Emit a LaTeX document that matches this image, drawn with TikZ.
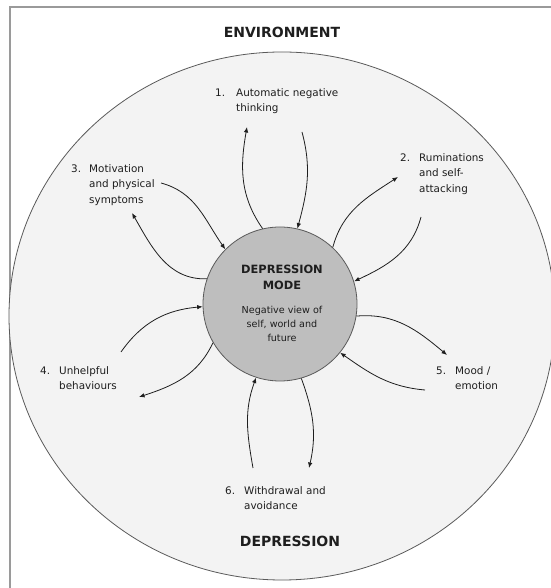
\documentclass[tikz,border=0pt]{standalone}
\usepackage{fontspec}
\setmainfont{DejaVu Sans}
\usetikzlibrary{arrows.meta}
\definecolor{bgout}{HTML}{F3F3F3}
\definecolor{corefill}{HTML}{BEBEBE}
\definecolor{edgecol}{HTML}{5A5A5A}
\definecolor{framecol}{HTML}{9A9A9A}
\definecolor{ink}{HTML}{1E1E1E}
\newcommand{\numlbl}[3]{\begin{tabular}[t]{@{}p{#1}@{}l@{}}#2&#3\end{tabular}}
\begin{document}
\begin{tikzpicture}[x=1pt,y=1pt,
  lbl/.style={anchor=base west, inner sep=0pt, font=\fontsize{10.4}{15.5}\selectfont, text=ink},
  titlelbl/.style={font=\fontsize{14}{16}\selectfont\bfseries, text=ink, inner sep=0pt},
  link/.style={draw=ink, line width=0.8pt, -{Latex[length=5.5pt,width=4.5pt]}},
]
\useasboundingbox (0,0) rectangle (550,588);
\fill[white] (0,0) rectangle (550,588);
\draw[framecol, line width=1.3pt] (10,581) rectangle (620,-40);
\draw[edgecol, fill=bgout, line width=0.8pt] (282,272) ellipse [x radius=273, y radius=264];

\node[circle, draw=edgecol, fill=corefill, line width=0.8pt, minimum size=154pt, inner sep=0pt] (core) at (280,284) {};
\node[font=\fontsize{11.4}{16}\selectfont\bfseries, align=center, text=ink, inner sep=0pt] (coretitle) at (282,311) {DEPRESSION\\MODE};
\node[font=\fontsize{9.6}{14}\selectfont, align=center, text=ink, inner sep=0pt] (coretext) at (282,264) {Negative view of\\self, world and\\future};

\node[titlelbl] (env) at (282,556) {ENVIRONMENT};
\node[titlelbl] (dep) at (290,47) {DEPRESSION};

\node[lbl] (l1) at (215,491.5) {\numlbl{21pt}{1.}{Automatic negative\\&thinking}};
\node[lbl] (l2) at (400,426.5) {\numlbl{19pt}{2.}{Ruminations\\&and self-\\&attacking}};
\node[lbl] (l3) at (71,415.5) {\numlbl{18pt}{3.}{Motivation\\&and physical\\&symptoms}};
\node[lbl] (l4) at (40,213.5) {\numlbl{19pt}{4.}{Unhelpful\\&behaviours}};
\node[lbl] (l5) at (436,213.5) {\numlbl{19pt}{5.}{Mood /\\&emotion}};
\node[lbl] (l6) at (225,93.5) {\numlbl{19pt}{6.}{Withdrawal and\\&avoidance}};

\coordinate (a1) at (247,461);
\coordinate (a2) at (302,456);
\coordinate (b1) at (398,411);
\coordinate (b2) at (421,371);
\coordinate (c1) at (161,405);
\coordinate (c2) at (132,375);
\coordinate (d1) at (121,236);
\coordinate (d2) at (139,191);
\coordinate (e1) at (447,233);
\coordinate (e2) at (425,198);
\coordinate (f1) at (253,120);
\coordinate (f2) at (309,120);

\draw[link] (core.103.5) to[out=125,in=260] (a1);
\draw[link] (a2) to[out=285,in=75] (core.77.6);
\draw[link] (core.47) to[out=75,in=213] (b1);
\draw[link] (b2) to[out=255,in=25] (core.17);
\draw[link] (c1) to[out=-15,in=125] (core.135.5);
\draw[link] (core.161) to[out=182,in=300] (c2);
\draw[link] (d1) to[out=55,in=185] (core.182);
\draw[link] (core.210.7) to[out=245,in=18] (d2);
\draw[link] (core.351) to[out=5,in=140] (e1);
\draw[link] (e2) to[out=175,in=-35] (core.321.7);
\draw[link] (f1) to[out=100,in=250] (core.252);
\draw[link] (core.286.6) to[out=-70,in=77] (f2);
\end{tikzpicture}
\end{document}
